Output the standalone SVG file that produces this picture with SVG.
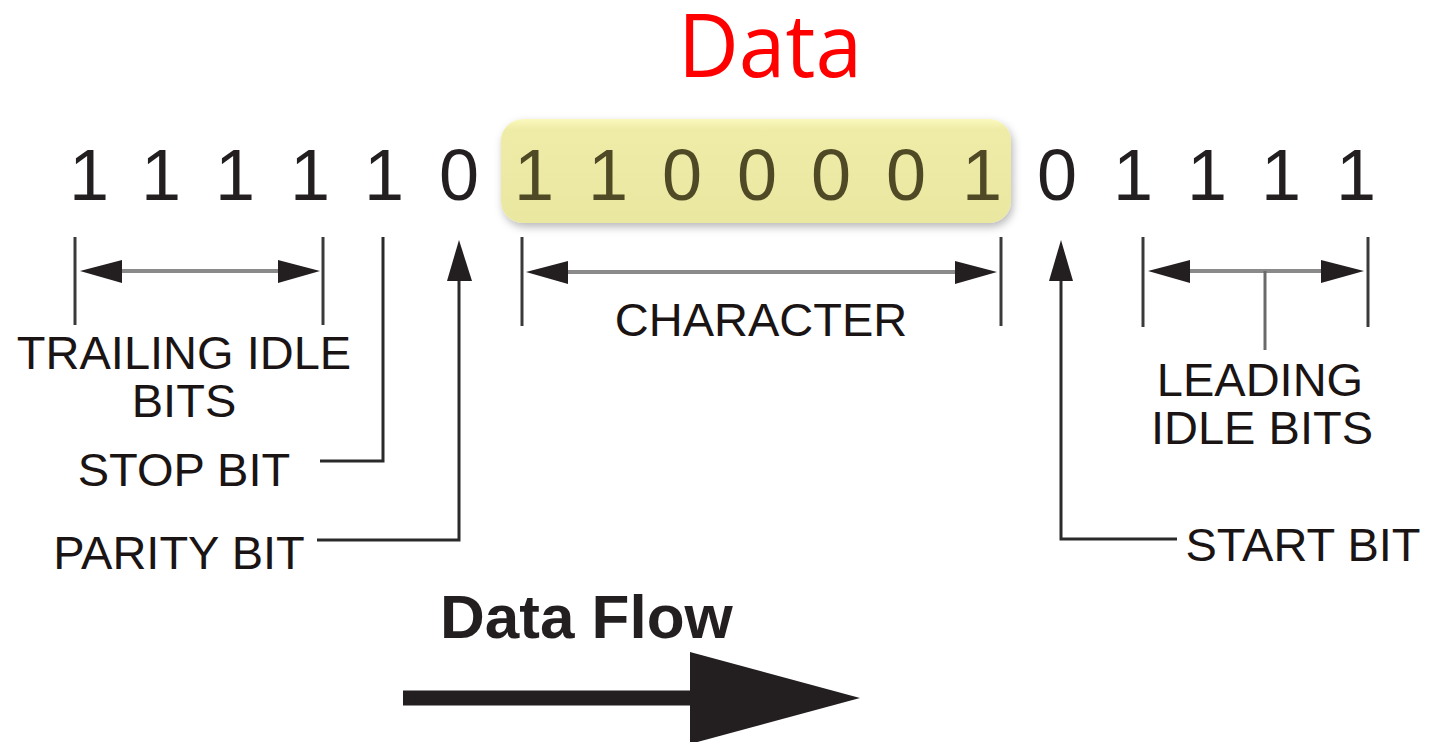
<svg xmlns="http://www.w3.org/2000/svg" width="1431" height="742" viewBox="0 0 1431 742">
<defs>
<linearGradient id="boxg" x1="0" y1="0" x2="0" y2="1">
<stop offset="0" stop-color="#fbf9bd"/>
<stop offset="0.1" stop-color="#efeca8"/>
<stop offset="1" stop-color="#eae7a1"/>
</linearGradient>
<filter id="sh" x="-10%" y="-20%" width="120%" height="150%">
<feDropShadow dx="2" dy="4" stdDeviation="4" flood-color="#000" flood-opacity="0.28"/>
</filter>
</defs>
<style>
.dig{font-family:"Liberation Sans",Arial,sans-serif;font-size:72px;fill:#231f20;text-anchor:middle}
.din{fill:#4f4a25}
.lbl{font-family:"Liberation Sans",Arial,sans-serif;font-size:47px;fill:#1a1414;text-anchor:middle}
.tick{stroke:#3a3a3a;stroke-width:3;fill:none}
.shaft{stroke:#8a8a8a;stroke-width:4;fill:none}
.lead{stroke:#2a2a2a;stroke-width:3;fill:none}
.head{fill:#231f20}
</style>
<rect width="1431" height="742" fill="#ffffff"/>

<g id="title">
<text x="770" y="77" font-family="'Open Sans','Liberation Sans',sans-serif" font-size="88" fill="#ff0000" text-anchor="middle" textLength="184" lengthAdjust="spacingAndGlyphs">Data</text>
</g>

<g id="character-box">
<rect x="501" y="119" width="510" height="104" rx="22" fill="url(#boxg)" filter="url(#sh)"/>
</g>

<g id="bits">
<text class="dig" x="89" y="200">1</text>
<text class="dig" x="161" y="200">1</text>
<text class="dig" x="235" y="200">1</text>
<text class="dig" x="310" y="200">1</text>
<text class="dig" x="384" y="200">1</text>
<text class="dig" x="459" y="200">0</text>
<text class="dig din" x="534" y="200">1</text>
<text class="dig din" x="608" y="200">1</text>
<text class="dig din" x="682" y="200">0</text>
<text class="dig din" x="757" y="200">0</text>
<text class="dig din" x="831" y="200">0</text>
<text class="dig din" x="906" y="200">0</text>
<text class="dig din" x="982" y="200">1</text>
<text class="dig" x="1057" y="200">0</text>
<text class="dig" x="1133" y="200">1</text>
<text class="dig" x="1207" y="200">1</text>
<text class="dig" x="1281" y="200">1</text>
<text class="dig" x="1356" y="200">1</text>
</g>

<g id="trailing-idle">
<text class="lbl" x="184" y="369">TRAILING IDLE</text>
<text class="lbl" x="184" y="417">BITS</text>
</g>
<g id="stop-bit"><text class="lbl" x="184" y="486">STOP BIT</text></g>
<g id="parity-bit"><text class="lbl" x="179" y="569">PARITY BIT</text></g>
<g id="character"><text class="lbl" x="761" y="336">CHARACTER</text></g>
<g id="leading-idle">
<text class="lbl" x="1260" y="396">LEADING</text>
<text class="lbl" x="1262" y="444">IDLE BITS</text>
</g>
<g id="start-bit"><text class="lbl" x="1303" y="561">START BIT</text></g>
<g id="data-flow">
<text x="440" y="638" font-family="'Liberation Sans',Arial,sans-serif" font-weight="bold" font-size="62" fill="#231f20">Data Flow</text>
</g>

<g id="connectors">
<!-- trailing idle bracket -->
<line class="tick" x1="75" y1="237" x2="75" y2="325"/>
<line class="tick" x1="323" y1="237" x2="323" y2="325"/>
<line class="shaft" x1="110" y1="271" x2="290" y2="271"/>
<polygon class="head" points="80,271 122,260 122,283"/>
<polygon class="head" points="320,271 278,260 278,283"/>
<!-- stop bit -->
<path class="lead" d="M383,237 V461 H320"/>
<!-- parity bit -->
<path class="lead" d="M317,540 H459 V275"/>
<polygon class="head" points="459,240 447,281 472,281"/>
<!-- character bracket -->
<line class="tick" x1="522" y1="237" x2="522" y2="326"/>
<line class="tick" x1="1001" y1="237" x2="1001" y2="326"/>
<line class="shaft" x1="550" y1="272" x2="975" y2="272"/>
<polygon class="head" points="526,272 568,261 568,284"/>
<polygon class="head" points="997,272 955,261 955,284"/>
<!-- start bit -->
<path class="lead" d="M1177,539 H1061 V275"/>
<polygon class="head" points="1061,240 1049,281 1073,281"/>
<!-- leading idle bracket -->
<line class="tick" x1="1143" y1="237" x2="1143" y2="327"/>
<line class="tick" x1="1368" y1="237" x2="1368" y2="327"/>
<line class="shaft" x1="1175" y1="271" x2="1335" y2="271"/>
<line class="shaft" x1="1265" y1="271" x2="1265" y2="350" style="stroke:#6a6a6a;stroke-width:3"/>
<polygon class="head" points="1148,271 1190,260 1190,283"/>
<polygon class="head" points="1364,271 1321,260 1321,283"/>
<!-- data flow arrow -->
<line x1="403" y1="698" x2="700" y2="698" stroke="#231f20" stroke-width="15"/>
<polygon class="head" points="690,652 860,698 690,744"/>
</g>
</svg>
